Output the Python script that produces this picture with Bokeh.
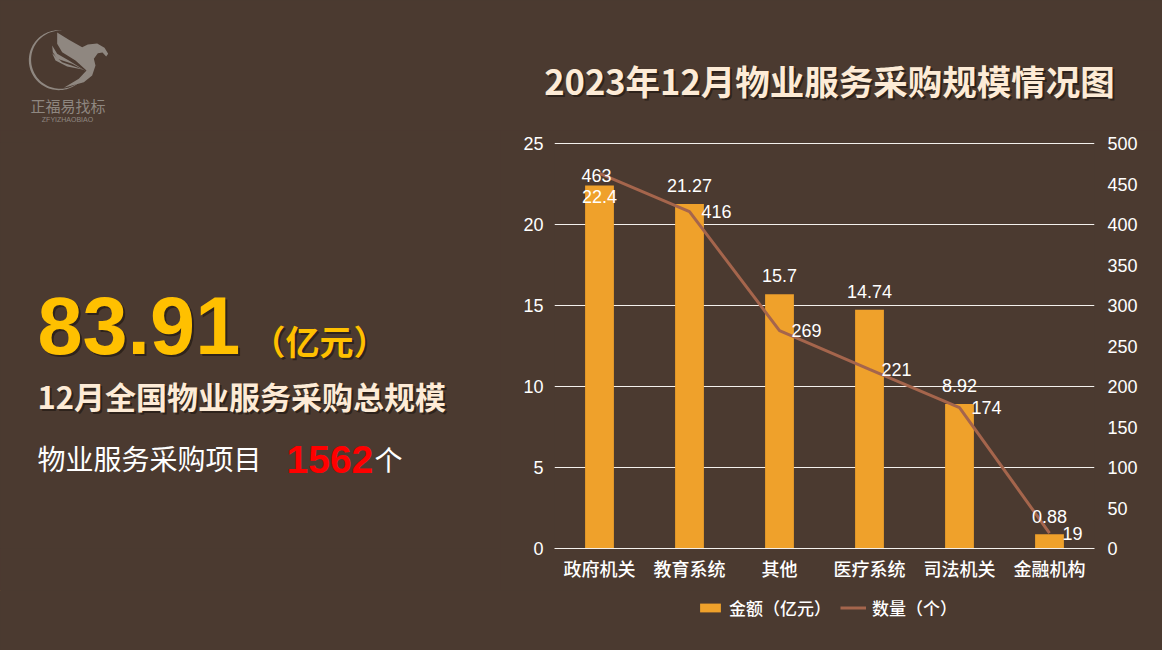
import numpy as np
from bokeh.plotting import figure
from bokeh.layouts import row, column
from bokeh.models import (ColumnDataSource, FactorRange, Range1d, LinearAxis, Label, Legend, LegendItem,
                          FixedTicker)
from bokeh.core.properties import value
from bokeh.embed import file_html
from bokeh.resources import INLINE

categories = ["政府机关", "教育系统", "其他", "医疗系统", "司法机关", "金融机构"]
amounts = [22.4, 21.27, 15.7, 14.74, 8.92, 0.88]
counts = [463, 416, 269, 221, 174, 19]
amount_labels = ["22.4", "21.27", "15.7", "14.74", "8.92", "0.88"]
count_labels = ["463", "416", "269", "221", "174", "19"]
left_ticks = [0, 5, 10, 15, 20, 25]
right_ticks = [0, 50, 100, 150, 200, 250, 300, 350, 400, 450, 500]

BG = "#4b3a30"
BAR = "#efa12b"
LINE = "#a5654c"
CREAM = "#fdebd6"
LOGO = "#8f8780"
CJK = "Noto Sans CJK SC"
CJK_M = "Noto Sans CJK SC Medium"
LAT = "Liberation Sans"
SPLIT_X = 500
TOP_H = 130
BOT_Y = 590
FRAME_TOP = 142      # one pixel of headroom so the gridline at the top tick is not clipped
FRAME_BOTTOM = 548
HEADROOM = 406 / 405


def canvas(w, h, x0, y0):
    f = figure(width=w, height=h, output_backend="svg", toolbar_location=None,
               x_range=Range1d(x0, x0 + w), y_range=Range1d(y0 + h, y0),
               background_fill_color=BG, border_fill_color=BG, outline_line_color=None,
               min_border=0, x_axis_location=None, y_axis_location=None)
    f.grid.visible = False
    return f


top_fig = canvas(1162, TOP_H, 0, 0)
bot_fig = canvas(1162, 650 - BOT_Y, 0, BOT_Y)

# the row lines up its figures' frames, so this one shares the chart's frame height
left_fig = figure(width=SPLIT_X, height=BOT_Y - TOP_H, output_backend="svg", toolbar_location=None,
                  x_range=Range1d(0, SPLIT_X), y_range=Range1d(FRAME_BOTTOM, FRAME_TOP),
                  background_fill_color=BG, border_fill_color=BG, outline_line_color=None,
                  min_border_left=0, min_border_right=0, min_border_top=FRAME_TOP - TOP_H,
                  min_border_bottom=BOT_Y - FRAME_BOTTOM, x_axis_location=None, y_axis_location=None)
left_fig.grid.visible = False

p = figure(width=1162 - SPLIT_X, height=BOT_Y - TOP_H, output_backend="svg", toolbar_location=None,
           x_range=FactorRange(factors=categories, range_padding=0), y_range=Range1d(0, 25 * HEADROOM),
           background_fill_color=BG, border_fill_color=BG, outline_line_color=None,
           min_border_left=554 - SPLIT_X, min_border_right=68, min_border_top=FRAME_TOP - TOP_H,
           min_border_bottom=BOT_Y - FRAME_BOTTOM)

p.extra_y_ranges = {"count": Range1d(0, 500 * HEADROOM)}

src = ColumnDataSource(dict(cat=categories, amt=amounts, cnt=counts,
                            amt_t=amount_labels, cnt_t=count_labels,
                            amt_dx=[0, 0, 0, 0, 0, 0], amt_dy=[11, -18, -19, -18, -18, -18],
                            cnt_dx=[-3, 27, 27, 27, 27, 23], cnt_dy=[2, 0, 0, 0, 0, 0]))

p.vbar(x="cat", top="amt", width=0.32, source=src, color=BAR, line_color=None)
p.line(x="cat", y="cnt", source=src, y_range_name="count", line_color=LINE, line_width=3)

p.text(x="cat", y="amt", text="amt_t", source=src, text_color="white", text_font=value(LAT),
       text_font_size="18px", text_align="center", text_baseline="middle", x_offset="amt_dx", y_offset="amt_dy")
p.text(x="cat", y="cnt", text="cnt_t", source=src, y_range_name="count", text_color="white", text_font=value(LAT),
       text_font_size="18px", text_align="center", text_baseline="middle", x_offset="cnt_dx", y_offset="cnt_dy")

p.xgrid.visible = False
p.ygrid.ticker = FixedTicker(ticks=left_ticks)
p.ygrid.grid_line_color = "#f4f0ec"
p.ygrid.grid_line_width = 1

p.yaxis[0].ticker = FixedTicker(ticks=left_ticks)
right = LinearAxis(y_range_name="count", ticker=FixedTicker(ticks=right_ticks))
p.add_layout(right, "right")
for ax in (p.yaxis[0], right):
    ax.axis_line_color = None
    ax.major_tick_line_color = None
    ax.minor_tick_line_color = None
    ax.major_label_text_color = "white"
    ax.major_label_text_font = LAT
    ax.major_label_text_font_size = "18px"
p.yaxis[0].major_label_standoff = 5
right.major_label_standoff = 7

xa = p.xaxis[0]
xa.axis_line_color = "#f4f0ec"
xa.axis_line_width = 1
xa.major_tick_line_color = None
xa.minor_tick_line_color = None
xa.major_label_text_color = "white"
xa.major_label_text_font = CJK_M
xa.major_label_text_font_size = "18px"
xa.major_label_standoff = 0

# legend lives in its own strip: keys are off-screen glyphs of the same style as the chart's marks
key_bar = bot_fig.vbar(x=[-100], top=[0], width=1, color=BAR, line_color=None)
key_line = bot_fig.line(x=[-100, -100], y=[0, 0], line_color=LINE, line_width=3)
legend = Legend(items=[LegendItem(label="金额（亿元）", renderers=[key_bar]),
                       LegendItem(label="数量（个）", renderers=[key_line])],
                orientation="horizontal", location=(697, 30),
                background_fill_alpha=0, border_line_alpha=0,
                label_text_color="white", label_text_font=CJK_M, label_text_font_size="17px",
                glyph_width=26, glyph_height=11, spacing=9, label_standoff=6,
                padding=0, margin=0)
bot_fig.add_layout(legend, "center")


def txt(f, x, y, s, size, color, font=CJK, style="normal", align="left", shadow=None):
    if shadow:
        f.add_layout(Label(x=x + 2, y=y + 2, text=s, text_font=font, text_font_size=size, text_font_style=style,
                           text_color=shadow, text_align=align, text_baseline="middle"))
    f.add_layout(Label(x=x, y=y, text=s, text_font=font, text_font_size=size, text_font_style=style,
                       text_color=color, text_align=align, text_baseline="middle"))


SH = "#2e231c"
txt(top_fig, 829, 79, "2023年12月物业服务采购规模情况图", "34.5px", CREAM, style="bold", align="center", shadow=SH)
txt(left_fig, 37, 325, "83.91", "81px", "#ffc000", font=LAT, style="bold", shadow=SH)
txt(left_fig, 251, 340, "（亿元）", "34px", "#ffc000", style="bold", shadow=SH)
txt(left_fig, 37, 395, "12月全国物业服务采购总规模", "31px", CREAM, style="bold", shadow=SH)
txt(left_fig, 37, 457, "物业服务采购项目", "28px", "white")
txt(left_fig, 286, 459, "1562", "39px", "#ff0000", font=LAT, style="bold")
txt(left_fig, 374, 458, "个", "28px", "white")
txt(top_fig, 30, 105, "正福易找标", "15px", LOGO, font=CJK)
txt(top_fig, 67, 119, "ZFYIZHAOBIAO", "7px", LOGO, font=LAT, align="center")


# logo shapes (zoom coords -> page px)
def poly(pts):
    a = np.array(pts, float)
    top_fig.patch(a[:, 0] / 3, a[:, 1] / 3 + 10, fill_color=LOGO, line_color=None)


th = np.radians(np.linspace(85, 312, 60))
cx, cy, r = 175, 149, 90
outer = np.c_[cx + r * np.cos(th), cy - r * np.sin(th)]
w = 1 + 6 * np.sin(np.linspace(0, np.pi, 60))
inner = np.c_[cx + (r - w) * np.cos(th), cy - (r - w) * np.sin(th)]
poly(np.r_[outer, inner[::-1]])
poly([(170, 66), (205, 88), (245, 110), (262, 102), (290, 99), (312, 112), (323, 130), (317, 138), (306, 126),
      (292, 128), (280, 145), (285, 165), (275, 195), (250, 215), (190, 232), (235, 205), (258, 180), (225, 150),
      (185, 125), (170, 100)])
poly([(155, 105), (170, 130), (205, 150), (258, 183), (215, 160), (170, 145), (157, 125)])
poly([(155, 128), (185, 155), (250, 178), (200, 168), (165, 150)])

layout = column(top_fig, row(left_fig, p, spacing=0), bot_fig, spacing=0)
html = file_html(layout, INLINE)
html = html.replace("<head>", "<head><style>html,body{background:%s}</style>" % BG, 1)
open("out.html", "w").write(html)
